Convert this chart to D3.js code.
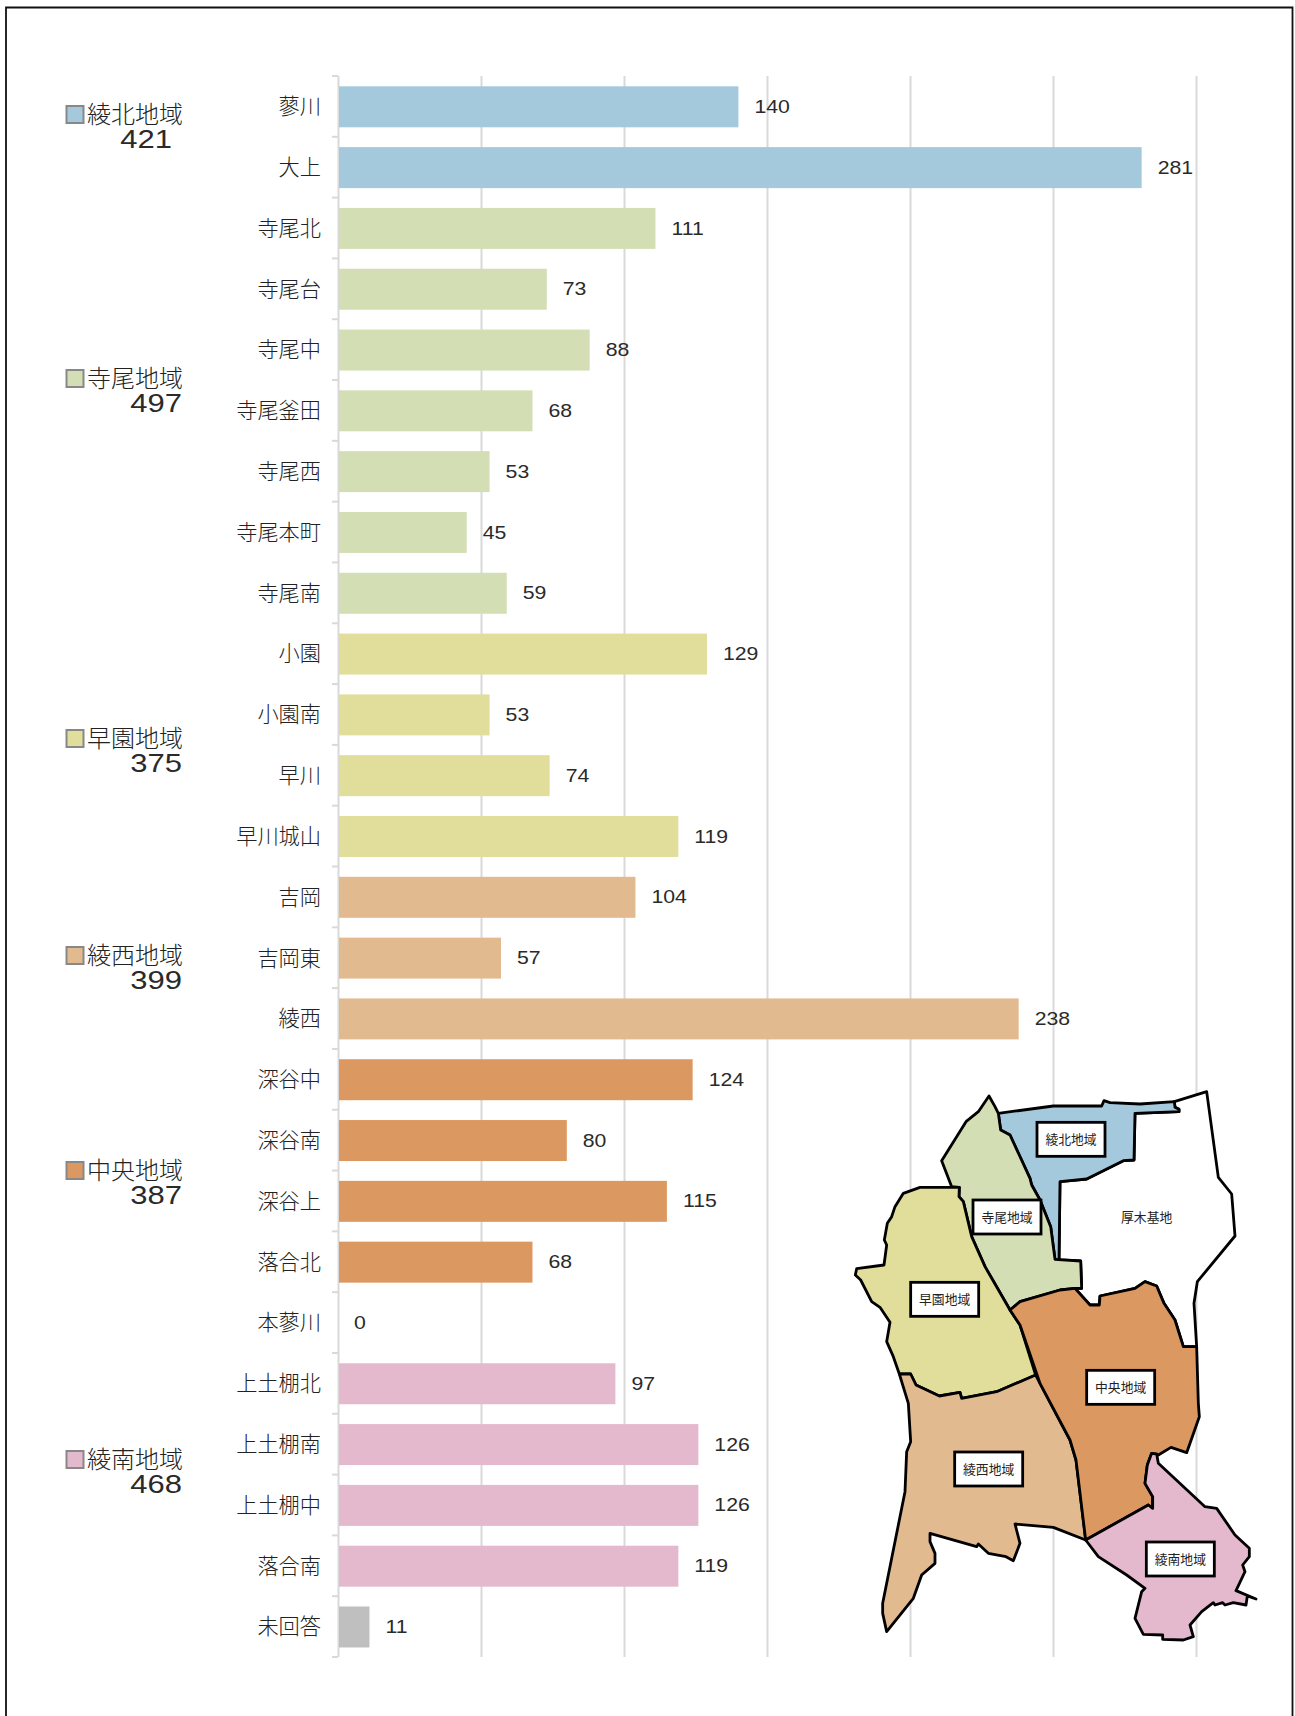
<!DOCTYPE html>
<html>
<head>
<meta charset="utf-8">
<script src="https://d3js.org/d3.v7.min.js"></script>
<style>
  html, body { margin: 0; padding: 0; background: #fff; }
  svg { display: block; }
  text { font-family: "Noto Sans CJK JP", "Liberation Sans", sans-serif; fill: #222; }
  .num { font-family: "Liberation Sans", Arial, sans-serif; fill: #2a2a2a; }
</style>
</head>
<body>
<div id="chart"></div>
<script>
var categories = ["蓼川","大上","寺尾北","寺尾台","寺尾中","寺尾釜田","寺尾西","寺尾本町","寺尾南","小園","小園南","早川","早川城山","吉岡","吉岡東","綾西","深谷中","深谷南","深谷上","落合北","本蓼川","上土棚北","上土棚南","上土棚中","落合南","未回答"];
var values = [140,281,111,73,88,68,53,45,59,129,53,74,119,104,57,238,124,80,115,68,0,97,126,126,119,11];
var regionOf = [0,0,1,1,1,1,1,1,1,2,2,2,2,3,3,3,4,4,4,4,4,5,5,5,5,6];

var regionNames = ["綾北地域","寺尾地域","早園地域","綾西地域","中央地域","綾南地域"];
var regionTotals = [421,497,375,399,387,468];
var regionColors = ["#a4c9dd","#d4deb4","#e0de9a","#e2ba8f","#db9860","#e4b9cd","#bfbfbf"];

var xTicks = [0,50,100,150,200,250,300];

// where the legend entries sit (page px) and where the number ends
var legendY = [115,379,739,956,1171,1460];
var legendNumEnd = [172,182,182,182,182,182];

// map outlines (units: 3x crop, see mapX / mapY)
var outlineKita = [[475,130],[640,108],[785,108],[792,92],[810,98],[900,102],[1003,95],[1005,112],[1017,118],[1017,125],[885,130],[882,270],[850,272],[740,327],[660,335],[657,570],[652,570],[645,568],[632,470],[600,390],[575,345],[570,325],[510,195],[482,180]];
var outlineTerao = [[447,78],[465,110],[475,130],[482,180],[510,195],[570,325],[575,345],[600,390],[632,470],[645,568],[722,573],[725,655],[705,655],[660,660],[540,695],[510,720],[435,590],[395,500],[370,395],[357,380],[358,352],[335,350],[305,272],[378,155],[415,125]];
var outlineSoen = [[358,352],[240,352],[190,370],[165,410],[155,440],[142,460],[133,510],[140,525],[132,585],[50,596],[46,615],[62,630],[95,695],[120,712],[150,757],[140,815],[160,860],[178,912],[212,912],[228,945],[298,978],[360,967],[365,985],[470,965],[587,915],[540,765],[510,720],[435,590],[395,500],[370,395],[357,380]];
var outlineSai = [[178,912],[205,1000],[212,1115],[200,1145],[195,1265],[128,1600],[128,1630],[140,1685],[220,1585],[245,1515],[285,1480],[285,1450],[270,1415],[270,1390],[410,1430],[415,1422],[445,1450],[498,1460],[520,1472],[540,1420],[525,1362],[640,1372],[737,1410],[708,1170],[690,1110],[600,940],[587,915],[470,965],[365,985],[360,967],[298,978],[228,945],[212,912]];
var outlineChuo = [[510,720],[540,695],[660,660],[705,655],[750,705],[778,705],[780,678],[885,655],[915,635],[950,648],[972,700],[1005,750],[1030,830],[1070,830],[1075,1000],[1078,1040],[1040,1148],[993,1132],[955,1155],[935,1150],[922,1185],[915,1240],[938,1280],[938,1315],[925,1305],[737,1410],[708,1170],[690,1110],[600,940],[540,765]];
var outlineMinami = [[737,1410],[925,1305],[938,1315],[938,1280],[915,1240],[922,1185],[935,1150],[950,1152],[955,1180],[1095,1310],[1130,1315],[1185,1395],[1228,1435],[1228,1460],[1208,1485],[1215,1505],[1188,1562],[1248,1587],[1222,1578],[1218,1605],[1180,1598],[1155,1605],[1148,1598],[1125,1605],[1120,1598],[1085,1625],[1050,1665],[1060,1700],[1030,1710],[968,1708],[968,1695],[910,1693],[885,1645],[905,1565],[915,1555],[860,1515],[775,1460]];
var outlineBase = [[1003,95],[1100,65],[1135,322],[1175,372],[1185,498],[1072,635],[1062,700],[1070,830],[1030,830],[1005,750],[972,700],[950,648],[915,635],[885,655],[780,678],[778,705],[750,705],[705,655],[725,655],[722,573],[657,570],[660,335],[740,327],[850,272],[882,270],[885,130],[1017,125],[1017,118],[1005,112]];
var mapShapes = [outlineBase,outlineKita,outlineTerao,outlineSoen,outlineSai,outlineChuo,outlineMinami];
var mapFills = ["#fff",regionColors[0],regionColors[1],regionColors[2],regionColors[3],regionColors[4],regionColors[5]];
// label box centres for regionNames, same units
var mapLabelAt = [[693,208],[501,441],[314,688],[446,1197],[842,952],[1021,1467]];
var baseLabel = "厚木基地";
var baseLabelAt = [920,442];

var width = 1295, height = 1716;
var margin = {top: 76, left: 338, right: 99, bottom: 59};

var svg = d3.select("#chart").append("svg")
    .attr("width", width)
    .attr("height", height);

svg.append("rect").attr("width", width).attr("height", height).attr("fill", "#fff");

// frame, open at the bottom
svg.append("path")
    .attr("d", "M6,1716V7.5H1292.5V1716")
    .attr("fill", "none")
    .attr("stroke", "#111")
    .attr("stroke-width", 1.8);

var x = d3.scaleLinear().domain([0, 300]).range([margin.left, width - margin.right]);
var y = d3.scaleBand().domain(categories).range([margin.top, height - margin.bottom]).paddingInner(0.326).paddingOuter(0.163);

// gridlines
var gridAxis = d3.axisTop(x).tickValues(xTicks).tickSize(-(height - margin.top - margin.bottom)).tickFormat("");
var grid = svg.append("g").attr("transform", "translate(0," + margin.top + ")").call(gridAxis);
grid.select(".domain").remove();
grid.selectAll("line").attr("stroke", "#d9d9d9").attr("stroke-width", 2);

// ticks sit on the band boundaries
var step = y.step();
svg.append("g").selectAll("line")
    .data(d3.range(categories.length + 1))
  .enter().append("line")
    .attr("x1", margin.left - 6)
    .attr("x2", margin.left)
    .attr("y1", function(d) { return margin.top + d * step; })
    .attr("y2", function(d) { return margin.top + d * step; })
    .attr("stroke", "#d9d9d9")
    .attr("stroke-width", 2);

var yAxis = d3.axisLeft(y).tickSize(0).tickPadding(17);
var yg = svg.append("g").attr("transform", "translate(" + margin.left + ",1)").call(yAxis);
yg.select(".domain").remove();
yg.selectAll("text").style("font-size", "21.2px").style("font-family", '"Noto Sans CJK JP"').style("font-weight", 300).attr("fill", "#222");

// bars
svg.append("g").selectAll("rect")
    .data(values)
  .enter().append("rect")
    .attr("x", x(0) + 1)
    .attr("y", function(d, i) { return y(categories[i]) + 0.4; })
    .attr("width", function(d) { return Math.max(0, x(d) - x(0) - 1); })
    .attr("height", y.bandwidth())
    .attr("fill", function(d, i) { return regionColors[regionOf[i]]; });

// the digits in the reference are wider than Liberation Sans, so stretch them a bit
svg.append("g").selectAll("text")
    .data(values)
  .enter().append("text")
    .attr("class", "num")
    .attr("transform", function(d, i) {
      return "translate(" + (x(d) + 16) + "," + (y(categories[i]) + y.bandwidth() / 2) + ") scale(1.18,1)";
    })
    .attr("dy", "0.36em")
    .style("font-size", "18px")
    .text(function(d) { return d; });

// legend
var legend = svg.append("g").selectAll("g")
    .data(regionNames)
  .enter().append("g")
    .attr("transform", function(d, i) { return "translate(0," + legendY[i] + ")"; });

legend.append("rect")
    .attr("x", 66.5).attr("y", -9).attr("width", 17).attr("height", 17)
    .attr("fill", function(d, i) { return regionColors[i]; })
    .attr("stroke", "#888").attr("stroke-width", 2);

legend.append("text")
    .attr("x", 87).attr("y", -1).attr("dy", "0.36em")
    .style("font-size", "24px").style("font-weight", 300)
    .text(function(d) { return d; });

legend.append("text")
    .attr("class", "num")
    .attr("transform", function(d, i) { return "translate(" + legendNumEnd[i] + ",23.5) scale(1.24,1)"; })
    .attr("dy", "0.36em")
    .attr("text-anchor", "end")
    .style("font-size", "25px")
    .text(function(d, i) { return regionTotals[i]; });

// map
var mapX = d3.scaleLinear().domain([0, 1320]).range([840, 1280]);
var mapY = d3.scaleLinear().domain([0, 1020]).range([1070, 1410]);
var mapLine = d3.line().x(function(d) { return mapX(d[0]); }).y(function(d) { return mapY(d[1]); }).curve(d3.curveLinearClosed);

svg.append("g").selectAll("path")
    .data(mapShapes)
  .enter().append("path")
    .attr("d", mapLine)
    .attr("fill", function(d, i) { return mapFills[i]; })
    .attr("stroke", "#000")
    .attr("stroke-width", 2.8)
    .attr("stroke-linejoin", "round");

var mapLabels = svg.append("g").selectAll("g")
    .data(regionNames)
  .enter().append("g")
    .attr("transform", function(d, i) { return "translate(" + mapX(mapLabelAt[i][0]) + "," + mapY(mapLabelAt[i][1]) + ")"; });

mapLabels.append("rect")
    .attr("x", -34).attr("y", -17).attr("width", 68).attr("height", 34)
    .attr("fill", "#fff").attr("stroke", "#000").attr("stroke-width", 2.8);

mapLabels.append("text")
    .attr("text-anchor", "middle").attr("dy", "0.36em")
    .style("font-size", "12.8px").style("font-weight", 400)
    .text(function(d) { return d; });

svg.append("text")
    .attr("x", mapX(baseLabelAt[0])).attr("y", mapY(baseLabelAt[1]))
    .attr("text-anchor", "middle").attr("dy", "0.36em")
    .style("font-size", "12.8px").style("font-weight", 400)
    .text(baseLabel);
</script>
</body>
</html>
